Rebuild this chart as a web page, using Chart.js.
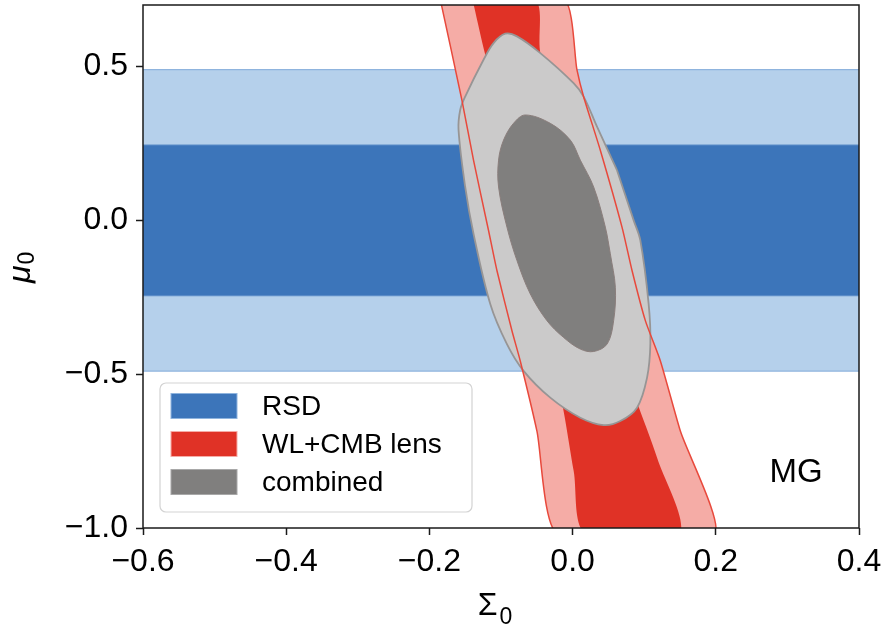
<!DOCTYPE html>
<html>
<head>
<meta charset="utf-8">
<script src="https://cdn.jsdelivr.net/npm/chart.js@4.4.1/dist/chart.umd.min.js"></script>
<style>
  html, body { margin: 0; padding: 0; background: #fff; }
  #wrap { width: 883px; height: 630px; }
</style>
</head>
<body>
<div id="wrap"><canvas id="chart"></canvas></div>
<script>
// axes
const xRange = [-0.6, 0.4];
const yRange = [-1.0, 0.7];
const xTicks = [-0.6, -0.4, -0.2, 0.0, 0.2, 0.4];
const yTicks = [-1.0, -0.5, 0.0, 0.5];
const xTitle = ["Σ", "0"];   // symbol, subscript
const yTitle = ["μ", "0"];
const modelTag = "MG";

// RSD constraint on mu0 (mean, 1 sigma, 2 sigma)
const rsdMean = 0.0;
const rsd1 = 0.245;
const rsd2 = 0.49;

// WL+CMB lens band: edges as Sigma0 values at mu0 levels (top -> bottom)
const wlOuterLeftX  = [-0.185, -0.1546, -0.1384, -0.1174, -0.1057, -0.0847, -0.0731, -0.0498, -0.0210];
const wlOuterLeftY  = [ 0.72,   0.391,   0.196,  -0.033,  -0.163,  -0.359,  -0.457,  -0.685,  -1.02];
const wlOuterRightX = [-0.0125, 0.0061, 0.0154, 0.0387, 0.0690, 0.0830, 0.1016, 0.1226, 0.1505, 0.1980];
const wlOuterRightY = [ 0.72,   0.489,  0.402,  0.228, -0.022, -0.163, -0.326, -0.457, -0.685, -1.02];
const wlInnerLeftX  = [-0.140, -0.122, -0.094, -0.066, -0.0382, -0.0126, 0.0015, 0.0185];
const wlInnerLeftY  = [ 0.72,   0.538,  0.294,  0.0,   -0.326,  -0.62,   -0.815, -1.02];
const wlInnerRightX = [-0.0528, -0.0451, -0.0172, 0.0177, 0.0527, 0.0876, 0.118, 0.1485];
const wlInnerRightY = [ 0.72,    0.545,   0.294,  0.0,   -0.326, -0.576, -0.772, -1.02];

// combined contours (closed loops, clockwise)
const combOuterX = [0.0620, 0.0853, 0.0946, 0.1062, 0.1086, 0.1040, 0.0900, 0.0667, 0.0433, 0.0108, -0.0312, -0.0685, -0.0917, -0.1150, -0.1384, -0.1500, -0.1593, -0.1570, -0.1500, -0.1244, -0.1104, -0.0941, -0.0777, -0.0451, 0.0014, 0.0154, 0.0341];
const combOuterY = [0.1631, 0.0, -0.0652, -0.2717, -0.4012, -0.5111, -0.6089, -0.6523, -0.6654, -0.6415, -0.5763, -0.4892, -0.4022, -0.2717, -0.0434, 0.1086, 0.2935, 0.3588, 0.4022, 0.5219, 0.5763, 0.6066, 0.598, 0.5437, 0.4459, 0.4022, 0.3043];
const combInnerX = [0.0527, 0.0597, 0.0573, 0.0481, 0.0294, 0.0108, -0.0126, -0.0358, -0.0591, -0.0777, -0.0917, -0.1034, -0.1034, -0.0964, -0.0825, -0.0661, -0.0312, -0.0032, 0.0108, 0.0294, 0.0457];
const combInnerY = [-0.1086, -0.2175, -0.3262, -0.4022, -0.4263, -0.4185, -0.3806, -0.3262, -0.2391, -0.1305, -0.0219, 0.1086, 0.1957, 0.2609, 0.3154, 0.3425, 0.3154, 0.2609, 0.1957, 0.1086, -0.0219];

const legendLabels = ["RSD", "WL+CMB lens", "combined"];

const colors = {
  blueDark: "#3c75ba", blueLight: "#b5d0eb", blueEdge: "#8fb4de",
  redDark: "#e03226", redLight: "#f5aca6", redEdge: "#e8493c",
  grayDark: "#807f7e", grayLight: "#cbcaca", grayEdge: "#979595"
};
const FONT = "'Liberation Sans', Arial, sans-serif";

function zipPts(xs, ys) {
  return xs.map((x, i) => ({ x: x, y: ys[i] }));
}
function closed(pts) {
  return pts.concat([pts[0]]);
}
function band(leftX, leftY, rightX, rightY) {
  const left = zipPts(leftX, leftY);
  const right = zipPts(rightX, rightY).reverse();
  return closed(left.concat(right));
}
function hband(lo, hi) {
  const x0 = xRange[0] - 0.05, x1 = xRange[1] + 0.05;
  return closed([{ x: x0, y: lo }, { x: x1, y: lo }, { x: x1, y: hi }, { x: x0, y: hi }]);
}
function fmt(v) {
  const s = Math.abs(v).toFixed(1);
  return (v < -1e-9 ? "\u2212" : "") + s;
}

const wlOuter = band(wlOuterLeftX, wlOuterLeftY, wlOuterRightX, wlOuterRightY);
const wlInner = band(wlInnerLeftX, wlInnerLeftY, wlInnerRightX, wlInnerRightY);

function shape(label, data, fillColor, edgeColor, edgeWidth, order, tension) {
  return {
    label: label,
    data: data,
    showLine: true,
    fill: fillColor ? "shape" : false,
    backgroundColor: fillColor || "transparent",
    borderColor: edgeColor,
    borderWidth: edgeWidth,
    pointRadius: 0,
    tension: tension || 0,
    order: order
  };
}

const datasets = [
  shape("RSD 2s", hband(rsdMean - rsd2, rsdMean + rsd2), colors.blueLight, colors.blueEdge, 1.2, 10),
  shape("RSD 1s", hband(rsdMean - rsd1, rsdMean + rsd1), colors.blueDark, "#5b8bc7", 1.2, 9),
  shape("WL 2s", wlOuter, colors.redLight, "transparent", 0, 8, 0.2),
  shape("WL 1s", wlInner, colors.redDark, "transparent", 0, 7, 0.3),
  shape("comb 2s", closed(zipPts(combOuterX, combOuterY)), colors.grayLight, colors.grayEdge, 1.8, 6, 0.35),
  shape("WL edge", wlOuter, null, colors.redEdge, 1.5, 5, 0.2),
  shape("comb 1s", closed(zipPts(combInnerX, combInnerY)), colors.grayDark, "#8a7e7c", 1, 4, 0.35)
];

const framePlugin = {
  id: "frame",
  afterDatasetsDraw(chart) {
    const a = chart.chartArea, ctx = chart.ctx;
    ctx.save();
    ctx.strokeStyle = "#1a1a1a";
    ctx.lineWidth = 1.5;
    ctx.strokeRect(a.left, a.top, a.right - a.left, a.bottom - a.top);
    ctx.restore();
  }
};

// axis titles with a real subscript, legend box and the MG tag
const textPlugin = {
  id: "texts",
  afterDraw(chart) {
    const a = chart.chartArea, ctx = chart.ctx;
    ctx.save();
    ctx.fillStyle = "#000";
    ctx.textBaseline = "alphabetic";

    // x title
    const cx = (a.left + a.right) / 2;
    ctx.font = "32px " + FONT;
    const wS = ctx.measureText(xTitle[0]).width;
    ctx.font = "23px " + FONT;
    const wSub = ctx.measureText(xTitle[1]).width;
    let x0 = cx - (wS + wSub + 2) / 2 - 6;
    ctx.font = "32px " + FONT;
    ctx.fillText(xTitle[0], x0, a.bottom + 87);
    ctx.font = "23px " + FONT;
    ctx.fillText(xTitle[1], x0 + wS + 2, a.bottom + 96);

    // y title, rotated
    ctx.save();
    ctx.translate(30, 283);
    ctx.rotate(-Math.PI / 2);
    ctx.font = "italic 32px " + FONT;
    const wM = ctx.measureText(yTitle[0]).width;
    ctx.fillText(yTitle[0], 0, 0);
    ctx.font = "23px " + FONT;
    ctx.fillText(yTitle[1], wM + 1, 4);
    ctx.restore();

    // legend
    const bx = a.left + 17, by = a.bottom - 145, bw = 312, bh = 129;
    const swatch = [colors.blueDark, colors.redDark, colors.grayDark];
    const swEdge = [colors.blueEdge, colors.redLight, "#a8a8a8"];
    ctx.beginPath();
    ctx.roundRect(bx, by, bw, bh, 6);
    ctx.fillStyle = "rgba(255,255,255,0.85)";
    ctx.fill();
    ctx.strokeStyle = "#d3d3d3";
    ctx.lineWidth = 1.2;
    ctx.stroke();
    ctx.font = "28px " + FONT;
    ctx.textBaseline = "middle";
    legendLabels.forEach((lab, i) => {
      const cy = by + 23 + i * 38;
      ctx.fillStyle = swatch[i];
      ctx.fillRect(bx + 11, cy - 12.5, 66, 25);
      ctx.strokeStyle = swEdge[i];
      ctx.lineWidth = 1;
      ctx.strokeRect(bx + 11, cy - 12.5, 66, 25);
      ctx.fillStyle = "#000";
      ctx.fillText(lab, bx + 102, cy + 1);
    });

    ctx.font = "33px " + FONT;
    ctx.textAlign = "center";
    ctx.fillText(modelTag, a.right - 63, a.bottom - 55);
    ctx.restore();
  }
};

new Chart(document.getElementById("chart"), {
  type: "scatter",
  data: { datasets: datasets },
  plugins: [framePlugin, textPlugin],
  options: {
    responsive: true,
    maintainAspectRatio: false,
    animation: false,
    layout: { padding: { left: 0, top: 5, right: 24, bottom: 0 } },
    plugins: { legend: { display: false }, tooltip: { enabled: false } },
    scales: {
      x: {
        type: "linear",
        min: xRange[0],
        max: xRange[1],
        afterBuildTicks(scale) { scale.ticks = xTicks.map(v => ({ value: v })); },
        afterFit(scale) { scale.height = 102; scale.paddingLeft = 0; scale.paddingRight = 0; },
        grid: { drawOnChartArea: false, drawTicks: true, tickLength: 7, tickColor: "#1a1a1a", tickWidth: 1.5 },
        border: { display: false },
        ticks: { color: "#000", padding: 8, font: { family: FONT, size: 32 }, callback: v => fmt(v), maxRotation: 0 },
        title: { display: false }
      },
      y: {
        type: "linear",
        min: yRange[0],
        max: yRange[1],
        afterBuildTicks(scale) { scale.ticks = yTicks.map(v => ({ value: v })); },
        afterFit(scale) { scale.width = 143; scale.paddingTop = 0; scale.paddingBottom = 0; },
        grid: { drawOnChartArea: false, drawTicks: true, tickLength: 7, tickColor: "#1a1a1a", tickWidth: 1.5 },
        border: { display: false },
        ticks: { color: "#000", padding: 8, font: { family: FONT, size: 32 }, callback: v => fmt(v) },
        title: { display: false }
      }
    }
  }
});
</script>
</body>
</html>
